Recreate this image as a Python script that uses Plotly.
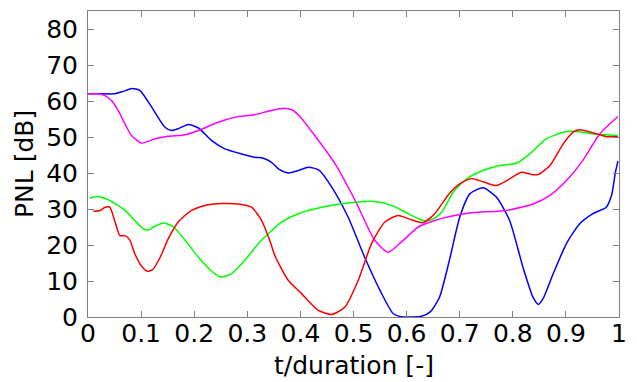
import plotly.graph_objects as go

blue_t = [0, 0.02, 0.05, 0.065, 0.083, 0.098, 0.12, 0.145, 0.157, 0.17, 0.189, 0.208, 0.233, 0.258, 0.289,
          0.314, 0.33, 0.345, 0.36, 0.377, 0.395, 0.415, 0.435, 0.459, 0.49, 0.521, 0.553, 0.575, 0.59, 0.61,
          0.628, 0.645, 0.662, 0.681, 0.70, 0.719, 0.744, 0.769, 0.794, 0.819, 0.838, 0.848, 0.857, 0.876,
          0.901, 0.926, 0.951, 0.976, 0.986, 0.993, 0.998]
blue_v = [62, 62, 62, 62.6, 63.5, 62.9, 58.3, 52.7, 51.8, 52.3, 53.5, 52.5, 49.0, 46.7, 45.3,
          44.4, 44.1, 43.0, 41.0, 40.0, 40.6, 41.6, 40.8, 36.1, 27.7, 16.6, 6.5, 0.9, 0.1, 0,
          0.2, 1.5, 5.5, 16, 27.7, 34.2, 35.9, 33.3, 26.8, 13.9, 5.5, 3.5, 5.1, 12,
          20.4, 25.9, 28.7, 30.5, 33.8, 40, 43.3]

mag_t = [0, 0.02, 0.032, 0.045, 0.057, 0.07, 0.082, 0.101, 0.126, 0.151, 0.183, 0.208, 0.245, 0.277, 0.314,
         0.343, 0.368, 0.385, 0.399, 0.427, 0.465, 0.503, 0.540, 0.565, 0.59, 0.622, 0.653, 0.681, 0.725,
         0.788, 0.838, 0.87, 0.901, 0.932, 0.964, 0.998]
mag_v = [62, 62, 61.5, 60, 57.3, 53.5, 50.4, 48.3, 49.5, 50.2, 50.6, 51.8, 54.1, 55.5, 56.2,
         57.3, 58.0, 57.5, 55.7, 50.4, 42.6, 32.4, 21.3, 18.0, 20.8, 25.0, 26.8, 27.9, 29.0,
         29.6, 31.4, 33.8, 37.9, 43.5, 50.9, 55.7]

red_t = [0.01, 0.023, 0.032, 0.041, 0.051, 0.06, 0.07, 0.079, 0.088, 0.101, 0.112, 0.122, 0.136, 0.151,
         0.17, 0.195, 0.22, 0.252, 0.283, 0.308, 0.327, 0.343, 0.352, 0.377, 0.402, 0.433, 0.459, 0.484,
         0.509, 0.534, 0.559, 0.584, 0.609, 0.631, 0.653, 0.681, 0.70, 0.722, 0.745, 0.769, 0.79, 0.816,
         0.835, 0.848, 0.87, 0.895, 0.913, 0.925, 0.957, 0.976, 0.998]
red_v = [29.4, 29.6, 30.5, 30.5, 26.4, 22.6, 22.6, 21.3, 17.6, 14.1, 12.7, 13.2, 16.6, 21.7,
         26.4, 29.6, 31.0, 31.5, 31.4, 30.5, 26.8, 21.0, 17.0, 10.2, 6.5, 1.9, 0.7, 2.8,
         10.2, 20.4, 26.4, 28.2, 27.0, 26.2, 28.7, 34.4, 37.0, 38.5, 37.5, 36.5, 38.0, 40.2,
         39.6, 39.6, 42.1, 48.1, 51.3, 52.0, 50.9, 50.1, 50.1]

green_t = [0.003, 0.016, 0.032, 0.051, 0.07, 0.088, 0.104, 0.114, 0.126, 0.143, 0.161, 0.183, 0.208, 0.233,
           0.25, 0.27, 0.295, 0.321, 0.343, 0.365, 0.396, 0.44, 0.49, 0.54, 0.572, 0.603, 0.631, 0.647,
           0.666, 0.688, 0.713, 0.744, 0.775, 0.807, 0.832, 0.863, 0.895, 0.913, 0.945, 0.976, 0.998]
green_v = [33.0, 33.5, 33.0, 31.5, 29.6, 26.8, 24.5, 24.2, 25.2, 26.1, 25.0, 21.3, 16.6, 12.7,
           11.1, 12.0, 15.7, 20.4, 23.6, 26.4, 28.7, 30.5, 31.7, 32.1, 31.0, 28.7, 26.8, 27.0,
           29.1, 34.7, 38.4, 40.7, 42.1, 42.7, 45.3, 49.5, 51.3, 51.6, 51.0, 50.6, 50.4]

x_ticks = [0, 0.1, 0.2, 0.3, 0.4, 0.5, 0.6, 0.7, 0.8, 0.9, 1]
x_tick_text = ["0", "0.1", "0.2", "0.3", "0.4", "0.5", "0.6", "0.7", "0.8", "0.9", "1"]
y_ticks = [0, 10, 20, 30, 40, 50, 60, 70, 80]
x_title = "t/duration [-]"
y_title = "PNL [dB]"

series = [
    (blue_t, blue_v, "#0000ff"),
    (mag_t, mag_v, "#ff00ff"),
    (green_t, green_v, "#00ff00"),
    (red_t, red_v, "#ff0000"),
]

fig = go.Figure()
for t, v, c in series:
    fig.add_trace(go.Scatter(x=t, y=v, mode="lines",
                             line=dict(color=c, width=1.5, shape="spline", smoothing=0.6),
                             showlegend=False))

font = dict(family="DejaVu Sans", size=25, color="black")
axis_common = dict(showline=True, linecolor="#808080", linewidth=1, mirror="ticks",
                   ticks="inside", ticklen=6, tickcolor="#808080", showgrid=False,
                   zeroline=False, tickfont=font, automargin=False)
fig.update_layout(
    width=637, height=382,
    margin=dict(l=88, r=18, t=11, b=65),
    plot_bgcolor="white", paper_bgcolor="white",
    xaxis=dict(range=[0, 1], tickvals=x_ticks, ticktext=x_tick_text,
               ticklabelstandoff=-6, **axis_common),
    yaxis=dict(range=[0, 85], tickvals=y_ticks,
               ticklabelstandoff=4, **axis_common),
    annotations=[
        dict(text=x_title, xref="paper", yref="paper", x=0.5, y=-0.157,
             xanchor="center", yanchor="middle", showarrow=False, font=font),
        dict(text=y_title, xref="paper", yref="paper", x=-0.1205, y=0.5,
             xanchor="center", yanchor="middle", showarrow=False, font=font, textangle=-90),
    ],
)
fig.write_html("out.html", config={"displayModeBar": False},
               post_script="document.body.style.margin='0';document.body.style.padding='0';")
